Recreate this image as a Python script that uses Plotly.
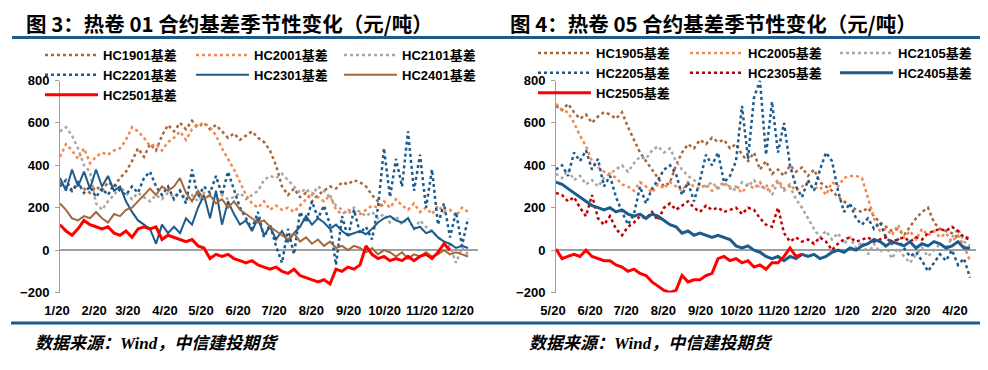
import datetime as dt
import plotly.graph_objects as go

# page is 988x370; the browser body adds an 8px margin, so the figure is
# 8px smaller and all reference pixel positions are shifted by that offset
PAGE_W, PAGE_H = 988, 370
OX, OY = 8, 8
W, H = PAGE_W - OX, PAGE_H - OY

# ---------------- data: left panel (HC 01 contracts), days after 1/20 ----------------
days_l = [0, 5, 10, 15, 20, 25, 30, 35, 40, 45, 50, 55, 60, 65, 70, 75, 80, 85, 90, 95,
          100, 105, 110, 115, 120, 125, 130, 135, 140, 145, 150, 155, 160, 165, 170, 175,
          180, 185, 190, 195, 200, 205, 210, 215, 220, 225, 230, 235, 240, 245, 250, 255,
          260, 265, 270, 275, 280, 285, 290, 295, 300, 305, 310, 315, 320, 325, 330, 335, 340]
ticks_l = ["1/20", "2/20", "3/20", "4/20", "5/20", "6/20", "7/20", "8/20", "9/20",
           "10/20", "11/20", "12/20"]

hc1901 = [320, 300, 280, 310, 290, 270, 300, 280, 320, 300, 340, 370,
          420, 480, 440, 500, 470, 540, 590, 560, 600, 570, 610, 580,
          600, 570, 590, 560, 530, 550, 520, 540, 560, 530, 510, 470,
          400, 300, 260, 290, 250, 270, 230, 260, 280, 300, 290, 320,
          310, 330, 320, 300, 260, 230, 200]
hc2001 = [440, 500, 470, 430, 480, 410, 440, 460, 450, 470, 480, 520,
          580, 560, 530, 490, 500, 470, 510, 530, 560, 520, 570, 590,
          600, 580, 540, 480, 430, 380, 320, 260, 220, 200, 230, 190,
          210, 190, 200, 180, 210, 240, 270, 250, 230, 260, 190, 170,
          190, 180, 170, 190, 210, 200, 230, 200, 240, 210, 190, 220,
          180, 200, 170, 210, 180, 190, 160, 200, 180]
hc2101 = [560, 580, 540, 480, 400, 370, 220, 190, 230, 260, 300, 270,
          240, 270, 250, 230, 260, 240, 270, 250, 280, 240, 260, 230,
          270, 250, 230, 260, 240, 250, 270, 240, 260, 280, 330, 350,
          340, 360, 330, 300, 270, 290, 260, 300, 280, 250, 210, 190,
          170, 200, 180, 160, 180, 150, 170, 130, 160, 120, 150, 100,
          140, 110, 90, 60, 40, 20, -60, 10, -20]
hc2201 = [300, 330, 280, 320, 270, 300, 250, 290, 260, 310, 280, 260,
          300, 270, 340, 370, 300, 260, 300, 240, 280, 220, 380, 250,
          300, 270, 350, 260, 370, 280, 200, 150, 100, 180, 60, 120,
          20, -60, 100, -20, 180, 130, 230, 150, 210, 120, -70, 160,
          60, 190, 80, 110, 50, 200, 480, 250, 430, 300, 560, 280,
          450, 200, 380, 120, 220, 60, 180, 20, 150]
hc2301 = [340, 280, 380, 300, 370, 290, 380, 300, 350, 280, 300, 230,
          180, 140, 120, 100, 30, 120, 80, 110, 80, 150, 120, 200,
          260, 150, 280, 120, 230, 170, 120, 140, 90, 150, 70, 110,
          50, 90, 40, 80, 110, 160, 120, 150, 130, 100, 120, 90,
          70, 80, 90, 75, 100, 130, 150, 160, 140, 130, 150, 100,
          110, 80, 90, 60, 40, 30, 10, 20, 10]
hc2401 = [220, 190, 150, 140, 160, 150, 180, 150, 130, 170, 160, 190,
          200, 230, 260, 290, 260, 300, 280, 300, 340, 270, 230, 280,
          240, 260, 220, 240, 200, 230, 190, 170, 150, 130, 140, 110,
          90, 70, 50, 80, 40, 60, 30, 50, 20, 40, 10, 20,
          0, 20, 10, -10, 10, -20, 0, -10, -30, -10, -40, -20,
          -30, -10, -30, -20, 0, -20, -10, -20, -30]
hc2501 = [120, 90, 70, 100, 140, 120, 110, 100, 110, 80, 70, 90,
          60, 100, 110, 100, 110, 50, 70, 60, 50, 40, 50, 20,
          10, -40, -20, -30, -20, -40, -50, -60, -50, -70, -80, -90,
          -80, -100, -110, -90, -120, -130, -140, -150, -140, -160, -90, -100,
          -80, -90, -70, 20, -20, -40, -30, -50, -40, -50, -30, -50,
          -30, -20, -40, -10, 30, 0]

# ---------------- data: right panel (HC 05 contracts), days after 5/20 ----------------
days_r = [0, 5, 10, 15, 20, 25, 30, 35, 40, 45, 50, 55, 60, 65, 70, 75, 80, 85, 90, 95,
          100, 105, 110, 115, 120, 125, 130, 135, 140, 145, 150, 155, 160, 165, 170, 175,
          180, 185, 190, 195, 200, 205, 210, 215, 220, 225, 230, 235, 240, 245, 250, 255,
          260, 265, 270, 275, 280, 285, 290, 295, 300, 305, 310, 315, 320, 325, 330, 335,
          340, 345]
ticks_r = ["5/20", "6/20", "7/20", "8/20", "9/20", "10/20", "11/20", "12/20", "1/20",
           "2/20", "3/20", "4/20"]

hc1905 = [680, 660, 690, 650, 620, 640, 600, 630, 650, 640, 620, 650,
          580, 520, 460, 420, 380, 340, 300, 320, 400, 460, 500, 480,
          520, 500, 530, 510, 520, 480, 500, 450, 420, 460, 380, 420,
          360, 380, 350, 400, 370, 390, 350, 380, 320, 300, 280, 250,
          230, 210, 190, 180, 200, 160, 130, 110, 90, 100, 70, 110,
          150, 180, 200, 130, 100, 90, 80, 60, 70, 50]
hc2005 = [690, 660, 650, 600, 540, 490, 420, 390, 370, 360, 340, 310,
          300, 280, 320, 300, 270, 310, 290, 320, 300, 280, 320, 300,
          290, 310, 280, 300, 320, 290, 300, 270, 310, 290, 320, 280,
          300, 330, 290, 310, 280, 300, 320, 290, 300, 260, 320, 300,
          340, 350, 350, 340, 250, 150, 90, 100, 70, 120, 60, 90,
          50, 100, 70, 90, 60, 80, 40, 70, 20, -50]
hc2105 = [360, 340, 380, 330, 350, 310, 330, 300, 340, 360, 380, 400,
          370, 410, 440, 430, 470, 490, 460, 480, 420, 380, 350, 330,
          310, 300, 320, 290, 310, 300, 280, 320, 300, 330, 290, 310,
          260, 320, 280, 300, 240, 200, 150, 100, 60, 90, 50, 80,
          30, 60, 10, 40, -20, 30, -10, 20, -40, 10, -30, -60,
          -20, 10, -30, 0, 30, 10, 60, 100, 40, 20]
hc2205 = [380, 400, 350, 460, 420, 470, 380, 430, 300, 350, 250, 180,
          120, 170, 300, 220, 290, 330, 380, 400, 360, 260, 320, 230,
          330, 450, 400, 460, 320, 350, 420, 680, 430, 720, 800, 450,
          700, 460, 600, 400, 300, 250, 330, 280, 380, 460, 420, 280,
          180, 220, 150, 120, 150, 100, 130, 60, 30, 50, 10, -30,
          -10, -50, -100, -60, -20, -50, 0, -70, -40, -130]
hc2305 = [270, 260, 230, 250, 200, 160, 260, 150, 120, 160, 100, 70,
          110, 130, 160, 150, 180, 140, 200, 220, 190, 210, 230, 200,
          180, 210, 190, 200, 180, 190, 200, 170, 200, 190, 150, 120,
          110, 200, 80, 40, 60, 40, 50, 30, 60, 40, 0, 30,
          50, 60, 40, 50, 60, 40, 50, 60, 40, 50, 60, 40,
          60, 50, 80, 90, 100, 90, 110, 90, 60, 50]
hc2405 = [320, 310, 290, 270, 250, 230, 210, 200, 190, 200, 180, 190,
          170, 160, 170, 150, 170, 160, 140, 120, 110, 80, 90, 70,
          80, 70, 60, 70, 60, 50, 20, 10, 20, 0, -10, -30,
          -40, -30, -50, -30, -40, -20, -30, -20, -40, -30, -10, 0,
          -10, 10, 0, 20, 30, 50, 40, 20, 40, 30, 20, 40,
          10, 30, 20, 40, 30, 10, 20, 40, 10, 10]
hc2505 = [5, -40, -30, -20, -30, 0, -30, -40, -50, -50, -70, -80,
          -100, -90, -110, -120, -150, -170, -190, -200, -190, -120, -150, -140,
          -140, -120, -110, -40, -30, -50, -40, -60, -50, -80, -70, -90,
          -60, -60, -30, 10, -30, -20]

y_ticks = [-200, 0, 200, 400, 600, 800]

# ---------------- styling ----------------
BROWN = "#A5683B"
ORANGE = "#F5874D"
GRAY = "#A6A6A6"
BLUE = "#1D5B8C"
DARKRED = "#C00000"
RED = "#FF0000"
AXIS_GRAY = "#A0A0A0"
RULE = "#1B5A8A"
FONT = "Liberation Sans, Arial, Noto Sans CJK SC"

base_l = dt.date(2023, 1, 20)
base_r = dt.date(2022, 5, 20)


def dates(base, days, n):
    return [(base + dt.timedelta(days=d)).isoformat() for d in days[:n]]


def tick_dates(base, labels):
    out = []
    y, m = base.year, base.month
    for _ in labels:
        out.append(dt.date(y, m, 20).isoformat())
        m += 1
        if m > 12:
            m, y = 1, y + 1
    return out


fig = go.Figure()

left_series = [
    ("HC1901基差", hc1901, BROWN, 2.5, "dot", "legend"),
    ("HC2001基差", hc2001, ORANGE, 2.5, "dot", "legend2"),
    ("HC2101基差", hc2101, GRAY, 2.5, "dot", "legend3"),
    ("HC2201基差", hc2201, BLUE, 2.5, "dot", "legend"),
    ("HC2301基差", hc2301, BLUE, 2, "solid", "legend2"),
    ("HC2401基差", hc2401, BROWN, 2, "solid", "legend3"),
    ("HC2501基差", hc2501, RED, 3, "solid", "legend"),
]
right_series = [
    ("HC1905基差", hc1905, BROWN, 2.5, "dot", "legend4"),
    ("HC2005基差", hc2005, ORANGE, 2.5, "dot", "legend5"),
    ("HC2105基差", hc2105, GRAY, 2.5, "dot", "legend6"),
    ("HC2205基差", hc2205, BLUE, 2.5, "dot", "legend4"),
    ("HC2305基差", hc2305, DARKRED, 2.5, "dot", "legend5"),
    ("HC2405基差", hc2405, BLUE, 3, "solid", "legend6"),
    ("HC2505基差", hc2505, RED, 3, "solid", "legend4"),
]

for name, vals, col, w, dash, lg in left_series:
    fig.add_trace(go.Scatter(x=dates(base_l, days_l, len(vals)), y=vals, mode="lines",
                             name=name, line=dict(color=col, width=w, dash=dash),
                             xaxis="x", yaxis="y", legend=lg, hoverinfo="skip"))
for name, vals, col, w, dash, lg in right_series:
    fig.add_trace(go.Scatter(x=dates(base_r, days_r, len(vals)), y=vals, mode="lines",
                             name=name, line=dict(color=col, width=w, dash=dash),
                             xaxis="x2", yaxis="y2", legend=lg, hoverinfo="skip"))


def px_x(p):
    return (p - OX) / W


def px_y(p):
    return 1 - (p - OY) / H


tick_font = dict(family=FONT, size=13, color="black", weight="bold")

xcommon = dict(type="date", showgrid=False, zeroline=False, showline=False, ticks="",
               tickfont=tick_font, ticklabelstandoff=8, ticklabelshift=-3,
               automargin=False)
ycommon = dict(range=[-200, 800], tickvals=y_ticks, showgrid=False, showline=True,
               linecolor=AXIS_GRAY, linewidth=1, ticks="outside", ticklen=4,
               tickcolor=AXIS_GRAY, zeroline=True, zerolinecolor=AXIS_GRAY,
               zerolinewidth=1.5, tickfont=tick_font, ticklabelstandoff=3,
               automargin=False)

ydom = [px_y(292.5), px_y(80.5)]

fig.update_layout(
    xaxis=dict(domain=[px_x(60), px_x(477.6)], anchor="y",
               range=[base_l.isoformat(), (base_l + dt.timedelta(days=348)).isoformat()],
               tickvals=tick_dates(base_l, ticks_l), ticktext=ticks_l, **xcommon),
    yaxis=dict(domain=ydom, anchor="x", **ycommon),
    xaxis2=dict(domain=[px_x(556), px_x(976)], anchor="y2",
                range=[base_r.isoformat(), (base_r + dt.timedelta(days=350)).isoformat()],
                tickvals=tick_dates(base_r, ticks_r), ticktext=ticks_r, **xcommon),
    yaxis2=dict(domain=ydom, anchor="x2", **ycommon),
)

leg_font = dict(family=FONT, size=13, color="black", weight="bold")


def legend_at(xp, yp):
    return dict(x=px_x(xp), y=px_y(yp), xanchor="left", yanchor="top", orientation="v",
                font=leg_font, itemwidth=53, bgcolor="rgba(0,0,0,0)", borderwidth=0,
                tracegroupgap=0, itemclick=False, itemdoubleclick=False)


fig.update_layout(
    legend=legend_at(40, 40),
    legend2=legend_at(191, 40),
    legend3=legend_at(339, 40),
    legend4=legend_at(533, 38),
    legend5=legend_at(685, 38),
    legend6=legend_at(835, 38),
)

title_font = dict(family="Noto Sans CJK SC", size=20.5, color="black", weight="bold")
src_font = dict(family="Noto Sans CJK SC", size=17, color="black", weight="bold",
                style="italic")
src_text = '数据来源：<span style="font-family:Liberation Serif">Wind</span>，中信建投期货'

fig.update_layout(
    annotations=[
        dict(text="图 3：热卷 01 合约基差季节性变化（元/吨）", x=px_x(24), y=px_y(23),
             xref="paper", yref="paper", xanchor="left", yanchor="middle",
             showarrow=False, font=title_font),
        dict(text="图 4：热卷 05 合约基差季节性变化（元/吨）", x=px_x(508), y=px_y(23),
             xref="paper", yref="paper", xanchor="left", yanchor="middle",
             showarrow=False, font=title_font),
        dict(text=src_text, x=px_x(33), y=px_y(341), xref="paper", yref="paper",
             xanchor="left", yanchor="middle", showarrow=False, font=src_font),
        dict(text=src_text, x=px_x(527), y=px_y(341), xref="paper", yref="paper",
             xanchor="left", yanchor="middle", showarrow=False, font=src_font),
    ],
    shapes=[
        dict(type="line", xref="paper", yref="paper", x0=px_x(12), x1=px_x(984),
             y0=px_y(37.5), y1=px_y(37.5), line=dict(color=RULE, width=3)),
        dict(type="line", xref="paper", yref="paper", x0=px_x(11), x1=px_x(984),
             y0=px_y(323), y1=px_y(323), line=dict(color=RULE, width=3)),
    ],
)

fig.update_layout(
    width=W, height=H, margin=dict(l=0, r=0, t=0, b=0, pad=0, autoexpand=False),
    paper_bgcolor="white", plot_bgcolor="white",
    font=dict(family=FONT, size=13, color="black"),
    showlegend=True, hovermode=False,
)

fig.write_html("out.html")
